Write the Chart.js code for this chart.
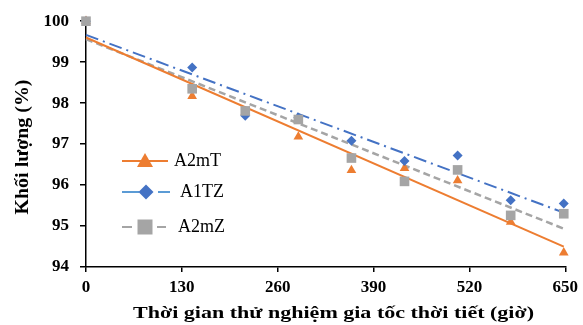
<!DOCTYPE html>
<html>
<head>
<meta charset="utf-8">
<script src="https://cdn.jsdelivr.net/npm/chart.js@4"></script>
<style>
  html, body { margin: 0; padding: 0; background: #fff; }
  #wrap { width: 583px; height: 325px; position: relative; }
</style>
</head>
<body>
<div id="wrap"><canvas id="c" width="583" height="325"></canvas></div>
<script>
// ---- data ----
const hours = [0, 144, 216, 288, 360, 432, 504, 576, 648];
const seriesNames = ['A2mT', 'A1TZ', 'A2mZ'];
const A2mT = [100, 98.17, 97.78, 97.18, 96.36, 96.41, 96.11, 95.10, 94.35];
const A1TZ = [100, 98.87, 97.69, 97.65, 97.08, 96.59, 96.72, 95.63, 95.55];
const A2mZ = [100, 98.35, 97.81, 97.60, 96.66, 96.09, 96.37, 95.26, 95.30];
const xTicks = [0, 130, 260, 390, 520, 650];
const yTicks = [94, 95, 96, 97, 98, 99, 100];
const xTitle = 'Thời gian thử nghiệm gia tốc thời tiết (giờ)';
const yTitle = 'Khối lượng (%)';

const ORANGE = '#ED7D31', BLUE = '#4472C4', LBLUE = '#5B9BD5', GRAY = '#A5A5A5';
const SERIF = "'Liberation Serif', 'Times New Roman', serif";

function pts(ys) { return hours.map((h, i) => ({ x: h, y: ys[i] })); }
// linear least-squares trendline (as Excel's linear trendline)
function trend(ys) {
  const n = hours.length;
  const mx = hours.reduce((a, b) => a + b, 0) / n;
  const my = ys.reduce((a, b) => a + b, 0) / n;
  let sxy = 0, sxx = 0;
  for (let i = 0; i < n; i++) { sxy += (hours[i] - mx) * (ys[i] - my); sxx += (hours[i] - mx) ** 2; }
  const b = sxy / sxx, a = my - b * mx;
  const x0 = hours[0], x1 = hours[n - 1];
  return [{ x: x0, y: a + b * x0 }, { x: x1, y: a + b * x1 }];
}

// axis titles drawn with the slightly stretched lettering of the original
const titlePlugin = {
  id: 'axisTitles',
  afterDraw(chart) {
    const ctx = chart.ctx;
    ctx.save();
    ctx.font = 'bold 17px ' + SERIF;
    ctx.fillStyle = '#000';
    ctx.textAlign = 'center';
    ctx.textBaseline = 'middle';
    // x title
    let w = ctx.measureText(xTitle).width;
    ctx.save();
    ctx.translate(333.5, 314);
    ctx.scale(401 / w, 1);
    ctx.fillText(xTitle, 0, 0);
    ctx.restore();
    // y title
    ctx.font = 'bold 18px ' + SERIF;
    w = ctx.measureText(yTitle).width;
    ctx.save();
    ctx.translate(23, 147);
    ctx.rotate(-Math.PI / 2);
    ctx.scale(135 / w, 1);
    ctx.fillText(yTitle, 0, 0);
    ctx.restore();
    ctx.restore();
  }
};

const legendPlugin = {
  id: 'customLegend',
  afterDraw(chart) {
    const ctx = chart.ctx;
    ctx.save();
    ctx.font = '18px ' + SERIF;
    ctx.fillStyle = '#000';
    ctx.textBaseline = 'middle';
    // A2mT
    let y = 161;
    ctx.strokeStyle = ORANGE; ctx.lineWidth = 2;
    ctx.beginPath(); ctx.moveTo(122, y); ctx.lineTo(168, y); ctx.stroke();
    ctx.fillStyle = ORANGE;
    ctx.beginPath(); ctx.moveTo(145, y - 8); ctx.lineTo(153, y + 6); ctx.lineTo(137, y + 6); ctx.closePath(); ctx.fill();
    ctx.fillStyle = '#000'; ctx.fillText(seriesNames[0], 174, y);
    // A1TZ
    y = 192;
    ctx.strokeStyle = LBLUE; ctx.lineWidth = 2;
    ctx.beginPath(); ctx.moveTo(122, y); ctx.lineTo(139, y); ctx.moveTo(158, y); ctx.lineTo(170, y); ctx.stroke();
    ctx.fillStyle = BLUE;
    ctx.beginPath(); ctx.moveTo(146, y - 7.5); ctx.lineTo(153.5, y); ctx.lineTo(146, y + 7.5); ctx.lineTo(138.5, y); ctx.closePath(); ctx.fill();
    ctx.fillStyle = '#000'; ctx.fillText(seriesNames[1], 180, y);
    // A2mZ
    y = 227;
    ctx.strokeStyle = GRAY; ctx.lineWidth = 2;
    ctx.beginPath(); ctx.moveTo(122, y); ctx.lineTo(132, y); ctx.moveTo(157, y); ctx.lineTo(166, y); ctx.stroke();
    ctx.fillStyle = GRAY;
    ctx.fillRect(137.5, y - 7.5, 15, 15);
    ctx.fillStyle = '#000'; ctx.fillText(seriesNames[2], 178, y);
    ctx.restore();
  }
};

const tickFont = { family: SERIF, size: 17, weight: 'bold' };

new Chart(document.getElementById('c'), {
  type: 'scatter',
  data: {
    datasets: [
      { label: 'A2mT trend', data: trend(A2mT), type: 'line', borderColor: ORANGE, borderWidth: 2, pointRadius: 0, fill: false, order: 10, clip: false },
      { label: 'A1TZ trend', data: trend(A1TZ), type: 'line', borderColor: BLUE, borderWidth: 2, borderDash: [13, 5, 2, 5], pointRadius: 0, fill: false, order: 11, clip: false },
      { label: 'A2mZ trend', data: trend(A2mZ), type: 'line', borderColor: GRAY, borderWidth: 2.5, borderDash: [7, 4], pointRadius: 0, fill: false, order: 12, clip: false },
      { label: seriesNames[0], data: pts(A2mT), pointStyle: 'triangle', pointRadius: 5.6, backgroundColor: ORANGE, borderColor: ORANGE, borderWidth: 0, order: 3, clip: false },
      { label: seriesNames[1], data: pts(A1TZ), pointStyle: 'rectRot', pointRadius: 5, backgroundColor: BLUE, borderColor: BLUE, borderWidth: 0, order: 2, clip: false },
      { label: seriesNames[2], data: pts(A2mZ), pointStyle: 'rect', pointRadius: 6.8, backgroundColor: GRAY, borderColor: GRAY, borderWidth: 0, order: 1, clip: false }
    ]
  },
  options: {
    responsive: false,
    animation: false,
    layout: { padding: { top: 19, right: 16, left: 0, bottom: 0 } },
    plugins: { legend: { display: false }, tooltip: { enabled: false } },
    scales: {
      x: {
        type: 'linear', min: 0, max: 650,
        afterBuildTicks(s) { s.ticks = xTicks.map(v => ({ value: v })); },
        afterFit(s) { s.height = 58; },
        grid: { drawOnChartArea: false, drawTicks: true, tickLength: 5, color: '#000', lineWidth: 1.5 },
        border: { display: true, color: '#000', width: 1.5 },
        ticks: { font: tickFont, color: '#000', padding: 5, maxRotation: 0 },
        title: { display: false }
      },
      y: {
        type: 'linear', min: 94, max: 100,
        afterBuildTicks(s) { s.ticks = yTicks.map(v => ({ value: v })); },
        afterFit(s) { s.width = 86; },
        grid: { drawOnChartArea: false, drawTicks: true, tickLength: 6, color: '#000', lineWidth: 1.5 },
        border: { display: true, color: '#000', width: 1.5 },
        ticks: { font: tickFont, color: '#000', padding: 11 },
        title: { display: false }
      }
    }
  },
  plugins: [titlePlugin, legendPlugin]
});
</script>
</body>
</html>
